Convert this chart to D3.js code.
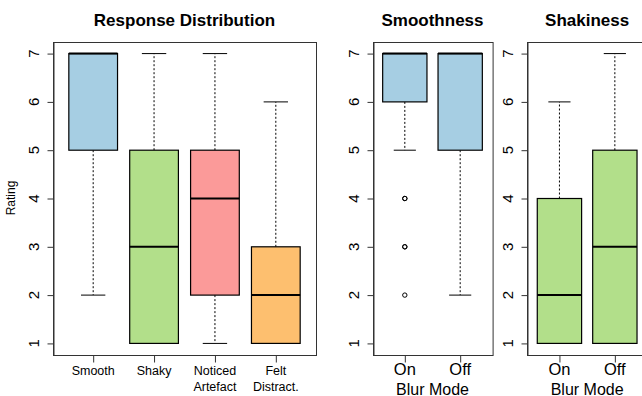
<!DOCTYPE html>
<html><head><meta charset="utf-8">
<script src="https://cdn.jsdelivr.net/npm/d3@7"></script>
<style>
html,body{margin:0;padding:0;background:#fff;overflow:hidden;}
svg{display:block;font-family:"Liberation Sans",Arial,sans-serif;}
</style></head>
<body>
<svg id="chart" width="642" height="396"></svg>
<script>
// ---- data ----
const yTicks = [1, 2, 3, 4, 5, 6, 7];

const respCategories = ["Smooth", "Shaky", "Noticed\nArtefact", "Felt\nDistract."];
const respColors = ["#A6CEE3", "#B2DF8A", "#FB9A99", "#FDBF6F"];
const respLow  = [2, 1, 1, 1];
const respQ1   = [5, 1, 2, 1];
const respMed  = [7, 3, 4, 2];
const respQ3   = [7, 5, 5, 3];
const respHigh = [7, 7, 7, 6];
const respOut  = [[], [], [], []];

const blurCategories = ["On", "Off"];

const smoothLow  = [5, 2];
const smoothQ1   = [6, 5];
const smoothMed  = [7, 7];
const smoothQ3   = [7, 7];
const smoothHigh = [7, 7];
const smoothOut  = [[4, 4, 3, 3, 2], []];

const shakeLow  = [1, 1];
const shakeQ1   = [1, 1];
const shakeMed  = [2, 3];
const shakeQ3   = [4, 5];
const shakeHigh = [6, 7];
const shakeOut  = [[], []];

// ---- drawing ----
const svg = d3.select("#chart");
const plotTop = 42, plotBottom = 355;
const y = d3.scaleLinear().domain([0.76, 7.24]).range([plotBottom, plotTop]);

function panel(opts) {
  const {left, right, title, cats, colors, low, q1, med, q3, high, out, tickSize, catSize, xlab} = opts;
  const n = cats.length;
  const pad = n * 0.04;
  const x = d3.scaleLinear().domain([0.5 - pad, n + 0.5 + pad]).range([left, right]);
  const unit = x(2) - x(1);
  const bw = unit * 0.8;
  const g = svg.append("g");
  const lx = Math.round(left) + 0.5;

  // y axis (ticks via d3 axis, labels as own text)
  const ya = g.append("g").attr("transform", `translate(${lx},0)`)
    .call(d3.axisLeft(y).tickValues(yTicks).tickSize(6).tickSizeOuter(0).tickFormat(""));
  ya.select(".domain").attr("stroke", "#333");
  ya.selectAll(".tick line").attr("stroke", "#333");
  yTicks.forEach(v => {
    g.append("text")
      .attr("transform", `translate(${lx - 20},${y(v)}) rotate(-90)`)
      .attr("text-anchor", "middle").attr("dy", "0.36em")
      .style("font-size", tickSize + "px").style("font-family", "'Liberation Sans', Arial, sans-serif")
      .attr("fill", "#000").text(d3.format("d")(v));
  });

  // x axis
  const xa = g.append("g").attr("transform", `translate(0,${plotBottom + 0.5})`)
    .call(d3.axisBottom(x).tickValues(d3.range(1, n + 1)).tickSize(7).tickSizeOuter(0).tickFormat(""));
  xa.select(".domain").remove();
  xa.selectAll(".tick line").attr("stroke", "#333");

  cats.forEach((c, i) => {
    const lines = c.split("\n");
    const t = g.append("text").attr("x", x(i + 1)).attr("y", opts.catY).attr("text-anchor", "middle")
      .style("font-size", catSize + "px").attr("fill", "#000");
    lines.forEach((l, k) => t.append("tspan").attr("x", x(i + 1)).attr("dy", k === 0 ? 0 : opts.catLH).text(l));
  });

  // boxes
  for (let i = 0; i < n; i++) {
    const cx = x(i + 1);
    g.append("line").attr("x1", cx).attr("x2", cx).attr("y1", y(q1[i])).attr("y2", y(low[i]))
      .attr("stroke", "#000").attr("stroke-dasharray", "2,2");
    g.append("line").attr("x1", cx).attr("x2", cx).attr("y1", y(q3[i])).attr("y2", y(high[i]))
      .attr("stroke", "#000").attr("stroke-dasharray", "2,2");
    g.append("line").attr("x1", cx - bw / 4).attr("x2", cx + bw / 4).attr("y1", y(low[i])).attr("y2", y(low[i]))
      .attr("stroke", "#000");
    g.append("line").attr("x1", cx - bw / 4).attr("x2", cx + bw / 4).attr("y1", y(high[i])).attr("y2", y(high[i]))
      .attr("stroke", "#000");
    g.append("rect").attr("x", cx - bw / 2).attr("width", bw)
      .attr("y", y(q3[i])).attr("height", y(q1[i]) - y(q3[i]))
      .attr("fill", colors[i]).attr("stroke", "#000").attr("stroke-width", 1.2);
    g.append("line").attr("x1", cx - bw / 2).attr("x2", cx + bw / 2).attr("y1", y(med[i])).attr("y2", y(med[i]))
      .attr("stroke", "#000").attr("stroke-width", 2);
    out[i].forEach(v => {
      g.append("circle").attr("cx", cx).attr("cy", y(v)).attr("r", 2.2)
        .attr("fill", "none").attr("stroke", "#000").attr("stroke-width", 1);
    });
  }

  // frame
  g.append("rect").attr("x", lx).attr("y", plotTop + 0.5)
    .attr("width", right - left).attr("height", plotBottom - plotTop)
    .attr("fill", "none").attr("stroke", "#333");

  // title
  g.append("text").attr("x", (left + right) / 2).attr("y", 26).attr("text-anchor", "middle")
    .style("font-size", "17px").style("font-weight", "bold").attr("fill", "#000").text(title);

  if (xlab) {
    g.append("text").attr("x", (left + right) / 2).attr("y", 394.5).attr("text-anchor", "middle")
      .style("font-size", "16px").attr("fill", "#000").text(xlab);
  }
}

panel({left: 53, right: 316, title: "Response Distribution", cats: respCategories, colors: respColors,
  low: respLow, q1: respQ1, med: respMed, q3: respQ3, high: respHigh, out: respOut,
  tickSize: 15, catSize: 12.5, catY: 375, catLH: 15.5});

panel({left: 372.7, right: 492.3, title: "Smoothness", cats: blurCategories,
  colors: [respColors[0], respColors[0]],
  low: smoothLow, q1: smoothQ1, med: smoothMed, q3: smoothQ3, high: smoothHigh, out: smoothOut,
  tickSize: 15, catSize: 16.5, catY: 375, catLH: 16, xlab: "Blur Mode"});

panel({left: 527.3, right: 647, title: "Shakiness", cats: blurCategories,
  colors: [respColors[1], respColors[1]],
  low: shakeLow, q1: shakeQ1, med: shakeMed, q3: shakeQ3, high: shakeHigh, out: shakeOut,
  tickSize: 15, catSize: 16.5, catY: 375, catLH: 16, xlab: "Blur Mode"});

// y label
svg.append("text").attr("transform", "translate(15,198) rotate(-90)").attr("text-anchor", "middle")
  .style("font-size", "12px").attr("fill", "#000").text("Rating");
</script>
</body></html>
